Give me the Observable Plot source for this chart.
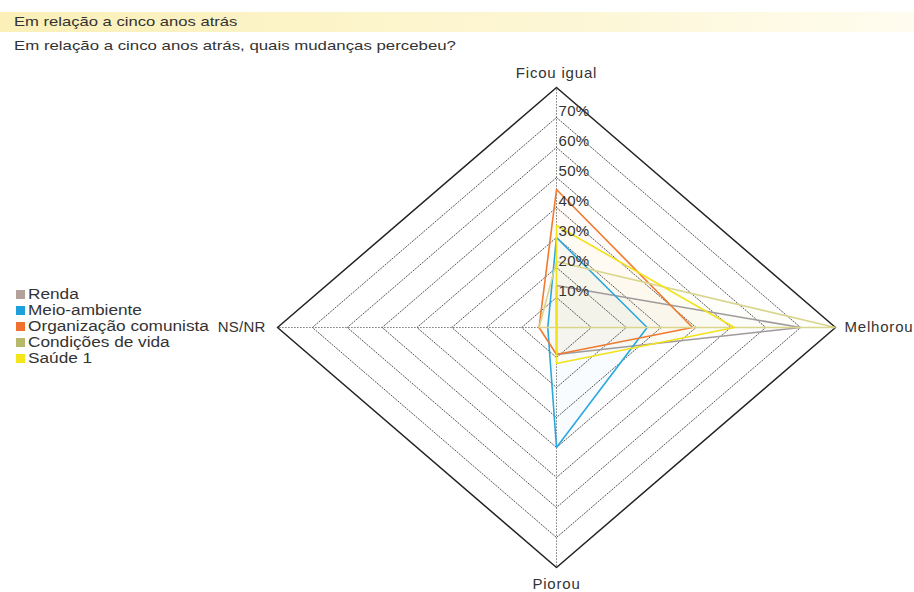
<!DOCTYPE html>
<html>
<head>
<meta charset="utf-8">
<script src="https://cdn.jsdelivr.net/npm/d3@7"></script>
<script src="https://cdn.jsdelivr.net/npm/@observablehq/plot@0.6"></script>
<style>
  body { margin: 0; background: #fff; font-family: "Liberation Sans", Arial, sans-serif; color: #333; }
  #wrap { position: relative; width: 914px; height: 592px; overflow: hidden; }
  #title { position: absolute; left: 0; top: 12px; width: 914px; height: 20px; line-height: 20px;
           padding-left: 14px; box-sizing: border-box; font-size: 13.5px;
           background: linear-gradient(to right, #fbf0b8, #fdf6d4 60%, #fefcef); }
  .stretch { display: inline-block; transform-origin: left center; white-space: nowrap; }
  #title .stretch { transform: scaleX(1.23); }
  #subtitle { position: absolute; left: 14px; top: 38px; font-size: 13.5px; }
  #subtitle .stretch { transform: scaleX(1.245); }
  #chart { position: absolute; left: 0; top: 60px; }
  #chart svg .lbl, #chart svg .lbl text { letter-spacing: 0.8px; }
  #chart svg .lbl2, #chart svg .lbl2 text { letter-spacing: 0.2px; }
  #chart svg .tk, #chart svg .tk text { letter-spacing: 0.3px; }
  #legend { position: absolute; left: 16px; top: 286px; font-size: 14px; line-height: 16px; }
  #legend .row { display: flex; align-items: center; white-space: nowrap; height: 16px; }
  #legend .sw { width: 9px; height: 9px; margin-right: 3px; flex: none; }
  #legend .stretch { transform: scaleX(1.23); }
</style>
</head>
<body>
<div id="wrap">
  <div id="title"><span class="stretch">Em relação a cinco anos atrás</span></div>
  <div id="subtitle"><span class="stretch">Em relação a cinco anos atrás, quais mudanças percebeu?</span></div>
  <div id="chart"></div>
  <div id="legend"></div>
</div>
<script>
// Axes (clockwise from top)
const axes = ["Ficou igual", "Melhorou", "Piorou", "NS/NR"];
// Series names and colours
const series = ["Renda", "Meio-ambiente", "Organização comunista", "Condições de vida", "Saúde 1"];
const lineColors = ["#a09a9c", "#29a8df", "#f07a30", "#d9d58c", "#f2e21a"];
const swatchColors = ["#b3a29c", "#1ea0dc", "#f07030", "#b9b86a", "#f5e61c"];
// Values (%) per axis: Ficou igual, Melhorou, Piorou, NS/NR
const renda = [14, 70, 9, 0];
const meioAmbiente = [30, 26, 40, 2.5];
const organizacao = [46, 39, 9, 5];
const condicoes = [22, 80, 0, 5];
const saude = [34, 51, 12, 0];
const values = [renda, meioAmbiente, organizacao, condicoes, saude];
// Ring ticks
const ringTicks = [10, 20, 30, 40, 50, 60, 70];
const maxValue = 80;
const tickLabels = ringTicks.map(t => t + "%");

// direction of each axis
const dirX = [0, 1, 0, -1];
const dirY = [1, 0, -1, 0];

const polyPoints = [];
series.forEach((s, si) => {
  [0, 1, 2, 3, 0].forEach((ai, k) => {
    const v = values[si][ai];
    polyPoints.push({series: s, order: k, x: v * dirX[ai], y: v * dirY[ai]});
  });
});

const ringPoints = [];
[...ringTicks, maxValue].forEach(r => {
  [0, 1, 2, 3, 0].forEach((ai, k) => {
    ringPoints.push({ring: r, order: k, x: r * dirX[ai], y: r * dirY[ai]});
  });
});

const spokes = axes.map((a, i) => ({axis: a, x: maxValue * dirX[i], y: maxValue * dirY[i]}));
const tickData = ringTicks.map((t, i) => ({v: t, label: tickLabels[i]}));

const colorScale = {domain: series, range: lineColors};

const plot = Plot.plot({
  width: 914,
  height: 532,
  marginLeft: 277,
  marginRight: 79,
  marginTop: 27,
  marginBottom: 25,
  x: {domain: [-maxValue, maxValue], axis: null},
  y: {domain: [-maxValue, maxValue], axis: null},
  color: colorScale,
  style: {fontFamily: "Liberation Sans, Arial, sans-serif", color: "#333", background: "transparent"},
  marks: [
    // faint fills
    Plot.line(polyPoints, {x: "x", y: "y", z: "series", fill: "series", fillOpacity: 0.03, stroke: null}),
    // dotted rings
    Plot.line(ringPoints.filter(d => d.ring < maxValue), {x: "x", y: "y", z: "ring", stroke: "#555", strokeWidth: 1, strokeDasharray: "1.2,1.8"}),
    // spokes
    Plot.link(spokes, {x1: 0, y1: 0, x2: "x", y2: "y", stroke: "#555", strokeWidth: 1, strokeDasharray: "1.2,1.8"}),
    // outer ring
    Plot.line(ringPoints.filter(d => d.ring === maxValue), {x: "x", y: "y", z: "ring", stroke: "#222", strokeWidth: 1.5}),
    // series outlines
    Plot.line(polyPoints, {x: "x", y: "y", z: "series", stroke: "series", strokeWidth: 1.6, strokeLinejoin: "miter"}),
    // tick labels
    Plot.text(tickData, {x: 0, y: "v", text: "label", textAnchor: "start", dx: 2, dy: -6, fontSize: 15, fill: "#333", className: "tk"}),
    // axis labels
    Plot.text([spokes[0]], {x: "x", y: "y", text: "axis", dy: -14, fontSize: 15, fill: "#333", className: "lbl"}),
    Plot.text([spokes[1]], {x: "x", y: "y", text: "axis", dx: 9, textAnchor: "start", fontSize: 15, fill: "#333", className: "lbl"}),
    Plot.text([spokes[2]], {x: "x", y: "y", text: "axis", dy: 17, fontSize: 15, fill: "#333", className: "lbl"}),
    Plot.text([spokes[3]], {x: "x", y: "y", text: "axis", dx: -12, textAnchor: "end", fontSize: 15, fill: "#333", className: "lbl2"})
  ]
});
document.getElementById("chart").appendChild(plot);

const legend = document.getElementById("legend");
series.forEach((s, i) => {
  const row = document.createElement("div");
  row.className = "row";
  const sw = document.createElement("span");
  sw.className = "sw";
  sw.style.background = swatchColors[i];
  const lab = document.createElement("span");
  lab.className = "stretch";
  lab.textContent = s;
  row.appendChild(sw);
  row.appendChild(lab);
  legend.appendChild(row);
});
</script>
</body>
</html>
